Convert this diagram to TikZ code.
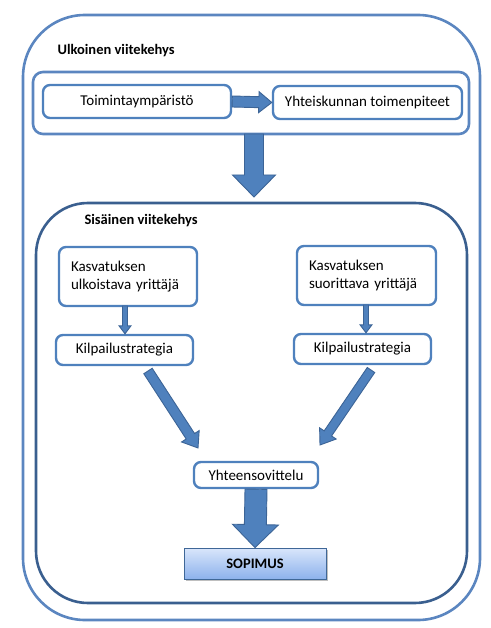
\documentclass[tikz,border=0pt]{standalone}
\usepackage{fontspec}
\setmainfont{Carlito}
\usepackage{tikz}
\usetikzlibrary{calc}
\definecolor{frameblue}{HTML}{5B86C0}
\definecolor{darkblue}{HTML}{3A5F8F}
\definecolor{boxblue}{HTML}{4F81BD}
\definecolor{arrowedge}{HTML}{3C6496}
\definecolor{toplight}{HTML}{D9E6FB}
\definecolor{botblue}{HTML}{8DB2EC}

% block arrow: from, to, half shaft, half head, head length
\newcommand{\blockarrow}[5]{%
  \coordinate (h) at ($(#2)!#5!(#1)$);
  \filldraw[arrowbody] ($(#1)!#3!90:(#2)$) -- ($(h)!#3!-90:(#1)$)
    -- ($(h)!#4!-90:(#1)$) -- (#2) -- ($(h)!#4!90:(#1)$)
    -- ($(h)!#3!90:(#1)$) -- ($(#1)!#3!-90:(#2)$) -- cycle;
}

\begin{document}
\begin{tikzpicture}[x=1pt,y=-1pt,
   txt/.style={font=\fontsize{15}{18}\selectfont},
   heading/.style={font=\fontsize{14.5}{17}\selectfont\bfseries},
   box/.style={draw=boxblue,line width=2.4pt,rounded corners=7pt,fill=white,txt,inner sep=0pt},
   arrowbody/.style={fill=boxblue,draw=arrowedge,line width=0.9pt,line join=miter}]
   \useasboundingbox (0,0) rectangle (490,628);
   % frames
   \node[draw=frameblue,line width=2.6pt,rounded corners=62pt,minimum width=457pt,minimum height=605pt] (outer) at (251.5,317.5) {};
   \node[heading,anchor=west] (outerlbl) at (54,51) {Ulkoinen viitekehys};
   \node[draw=frameblue,line width=2.6pt,rounded corners=10pt,minimum width=436pt,minimum height=62pt] (topgrp) at (251,103) {};
   \node[draw=darkblue,line width=2.6pt,rounded corners=52pt,minimum width=431pt,minimum height=400pt] (inner) at (251.5,403) {};
   \node[heading,anchor=west] (innerlbl) at (81,221) {Sisäinen viitekehys};
   % top row
   \node[box,minimum width=188pt,minimum height=33pt] (env) at (137,101.5) {Toimintaympäristö};
   \node[box,minimum width=189pt,minimum height=33pt] (soc) at (367.5,102.5) {Yhteiskunnan toimenpiteet};
   % entrepreneurs
   \node[box,minimum width=138pt,minimum height=59pt,align=left,text width=114pt] (outs) at (128,276.5) {Kasvatuksen\\ulkoistava yrittäjä};
   \node[box,minimum width=139pt,minimum height=59pt,align=left,text width=115pt] (perf) at (366.5,275.5) {Kasvatuksen\\suorittava yrittäjä};
   \node[box,minimum width=137pt,minimum height=30pt] (stratl) at (124.5,350) {Kilpailustrategia};
   \node[box,minimum width=137pt,minimum height=30pt] (stratr) at (362.5,349) {Kilpailustrategia};
   \node[box,minimum width=124pt,minimum height=26pt] (sync) at (256,475) {Yhteensovittelu};
   \node[draw=boxblue!80!black,line width=0.8pt,top color=toplight,bottom color=botblue,minimum width=142pt,minimum height=31pt,
         font=\fontsize{14.5}{17}\selectfont\bfseries,
         preaction={fill=black!25,transform canvas={shift={(1.5pt,-2pt)}}}] (deal) at (255,563.5) {SOPIMUS};
   % free ends
   \coordinate (downtail) at (254,134);
   \coordinate (downtip) at (254,197);
   \coordinate (ldrop) at (125,306);
   \coordinate (rdrop) at (366,305);
   \coordinate (ltail) at (148,371);
   \coordinate (ltip) at (198,448);
   \coordinate (rtail) at (371,370);
   \coordinate (rtip) at (320,445);
   % arrows
   \blockarrow{env.east}{soc.west}{5.5pt}{10.5pt}{13pt}
   \blockarrow{downtail}{downtip}{9.5pt}{21.5pt}{22pt}
   \blockarrow{ldrop}{ldrop |- stratl.north}{2.5pt}{6pt}{8pt}
   \blockarrow{rdrop}{rdrop |- stratr.north}{2.5pt}{6pt}{8pt}
   \blockarrow{ltail}{ltip}{5pt}{10.5pt}{14pt}
   \blockarrow{rtail}{rtip}{4.5pt}{10pt}{14pt}
   \blockarrow{sync.south}{deal.north}{11pt}{23pt}{23pt}
\end{tikzpicture}
\end{document}
